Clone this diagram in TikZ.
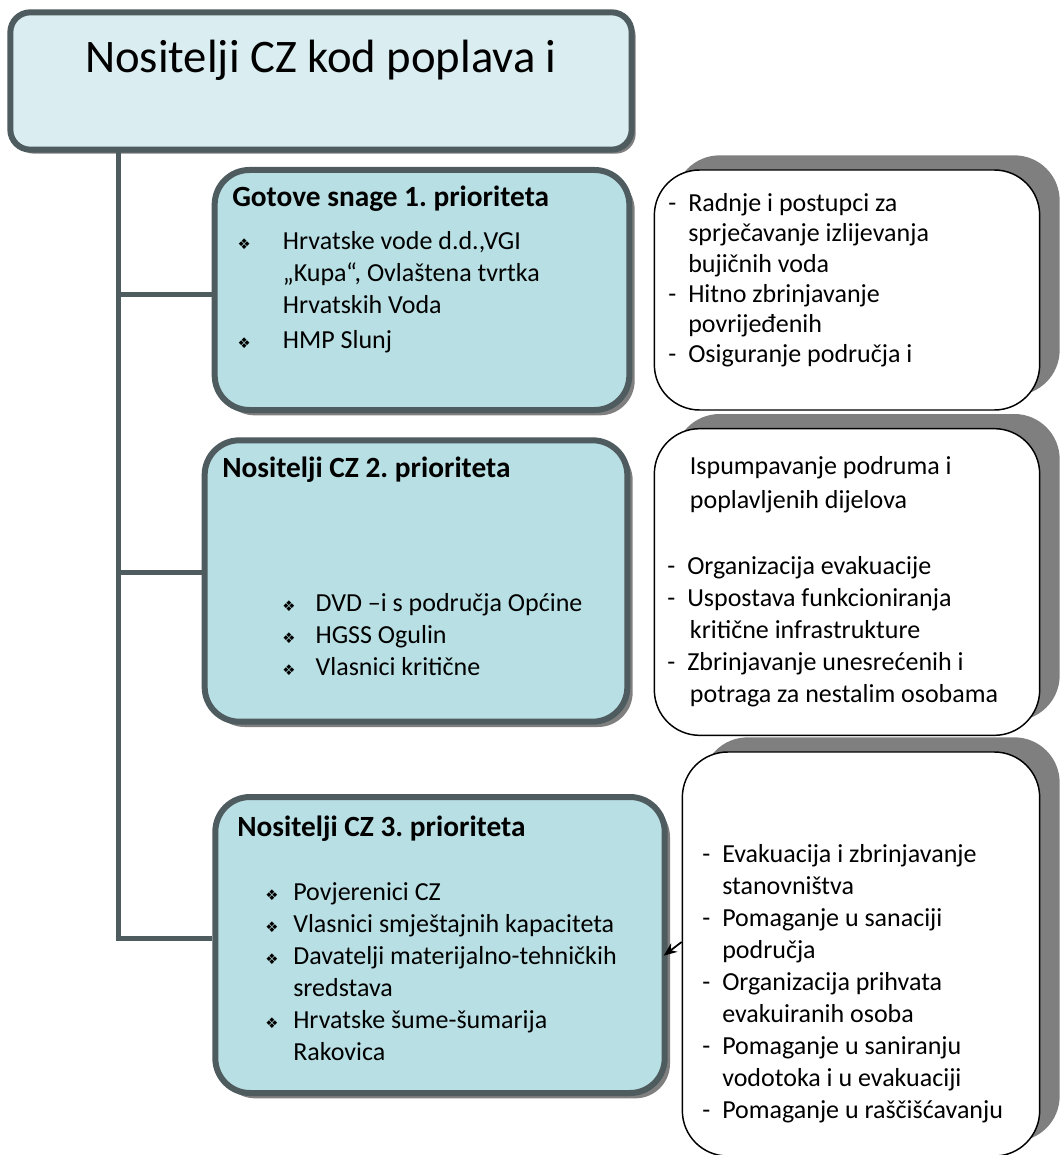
\documentclass[tikz,border=0pt]{standalone}
\usepackage{fontspec}
\setmainfont{Carlito}
\newfontfamily\symfont{DejaVu Sans}
\usetikzlibrary{shadows, arrows, arrows.meta, positioning}
\frenchspacing

\definecolor{rubgray}{HTML}{4E5B5F}
\definecolor{naslovfill}{HTML}{DAEDF0}
\definecolor{prioritet}{HTML}{B8DFE3}
\definecolor{sjena}{HTML}{7F7F7F}

\newcommand\dsh{\makebox[15pt][l]{-}}
\newcommand\bul[1]{\makebox[#1][l]{\symfont\fontsize{11}{11}\selectfont ❖}}
\newcommand\naslovprio[1]{{\fontsize{22}{24}\selectfont\textbf{#1}}}

\tikzstyle{naslov} = [rectangle, rounded corners=15pt, draw=rubgray, line width=4.5pt, fill=naslovfill, inner sep=0pt, minimum width=466pt, text height=45pt, text depth=58pt, font=\fontsize{35}{42}\selectfont, drop shadow={shadow xshift=3pt, shadow yshift=-3pt, fill=sjena, opacity=1}]
\tikzstyle{prio} = [rectangle, rounded corners=26pt, draw=rubgray, line width=4.5pt, fill=prioritet, drop shadow={shadow xshift=4pt, shadow yshift=-4pt, fill=sjena, opacity=1}]
\tikzstyle{zadatak} = [rectangle, rounded corners=34pt, draw=black, line width=1.1pt, fill=white, drop shadow={shadow xshift=15pt, shadow yshift=11pt, fill=sjena, opacity=1}]
% base = baseline of the last line
\tikzstyle{tekst} = [inner sep=0pt, align=left, anchor=base west, font=\fontsize{19.5}{24}\selectfont]
\tikzstyle{grana} = [line width=3.75pt, draw=rubgray]
\tikzstyle{arrow} = [line width=1.3pt,-{Stealth[length=10pt,width=8pt]}]

\begin{document}
\begin{tikzpicture}[x=0.75pt, y=-0.75pt]
  \useasboundingbox (0,0) rectangle (1060,1155);

  \node (title) [naslov] at (321,81) {Nositelji CZ kod poplava i};
  \coordinate (korijen) at (118,150);

  \node (p1) [prio, minimum width=311pt, minimum height=180pt] at (422,290) {};
  \node (p2) [prio, minimum width=317pt, minimum height=211pt] at (416,581) {};
  \node (p3) [prio, minimum width=337pt, minimum height=222pt] at (440,945) {};

  \node (r1) [zadatak, minimum width=289pt, minimum height=180pt] at (847,290) {};
  \node (r2) [zadatak, minimum width=289pt, minimum height=230pt] at (847,582) {};
  \node (r3) [zadatak, minimum width=268pt, minimum height=303pt] at (861,954) {};

  \draw [grana] (korijen) |- ([yshift=5pt]p3.west);
  \draw [grana] (korijen |- p1.west) ++(0,5) -- ([yshift=-3.75pt]p1.west);
  \draw [grana] (korijen |- p2.west) ++(0,-9) -- ([yshift=6.75pt]p2.west);
  \draw [arrow] ([yshift=9pt]r3.west) -- ([xshift=-3pt,yshift=-8pt]p3.east);

  \node (p1txt) [tekst] at (232,348) {\naslovprio{Gotove snage 1. prioriteta}\\[8pt]
    \hspace*{4pt}\bul{34pt}Hrvatske vode d.d.,VGI\\
    \hspace*{38pt}„Kupa“, Ovlaštena tvrtka\\
    \hspace*{38pt}Hrvatskih Voda\\[2pt]
    \hspace*{4pt}\bul{34pt}HMP Slunj};
  \node (p2txt) [tekst] at (222,675) {\naslovprio{Nositelji CZ 2. prioriteta}\\[76pt]
    \hspace*{45pt}\bul{25pt}DVD –i s područja Općine\\
    \hspace*{45pt}\bul{25pt}HGSS Ogulin\\
    \hspace*{45pt}\bul{25pt}Vlasnici kritične};
  \node (p3txt) [tekst] at (237,1060) {\naslovprio{Nositelji CZ 3. prioriteta}\\[24pt]
    \hspace*{21pt}\bul{21pt}Povjerenici CZ\\
    \hspace*{21pt}\bul{21pt}Vlasnici smještajnih kapaciteta\\
    \hspace*{21pt}\bul{21pt}Davatelji materijalno-tehničkih\\
    \hspace*{42pt}sredstava\\
    \hspace*{21pt}\bul{21pt}Hrvatske šume-šumarija\\
    \hspace*{42pt}Rakovica};

  \node (r1txt) [tekst, font=\fontsize{19.5}{22.5}\selectfont] at (668,362) {\dsh Radnje i postupci za\\
    \hspace*{15pt}sprječavanje izlijevanja\\
    \hspace*{15pt}bujičnih voda\\
    \dsh Hitno zbrinjavanje\\
    \hspace*{15pt}povrijeđenih\\
    \dsh Osiguranje područja i};
  \node (r2txt) [tekst] at (667,702) {\hspace*{17pt}Ispumpavanje podruma i\\[2pt]
    \hspace*{17pt}poplavljenih dijelova\\[25pt]
    \dsh Organizacija evakuacije\\
    \dsh Uspostava funkcioniranja\\
    \hspace*{17pt}kritične infrastrukture\\
    \dsh Zbrinjavanje unesrećenih i\\
    \hspace*{17pt}potraga za nestalim osobama};
  \node (r3txt) [tekst] at (702,1118) {\dsh Evakuacija i zbrinjavanje\\
    \hspace*{15pt}stanovništva\\
    \dsh Pomaganje u sanaciji\\
    \hspace*{15pt}područja\\
    \dsh Organizacija prihvata\\
    \hspace*{15pt}evakuiranih osoba\\
    \dsh Pomaganje u saniranju\\
    \hspace*{15pt}vodotoka i u evakuaciji\\
    \dsh Pomaganje u raščišćavanju};
\end{tikzpicture}
\end{document}
